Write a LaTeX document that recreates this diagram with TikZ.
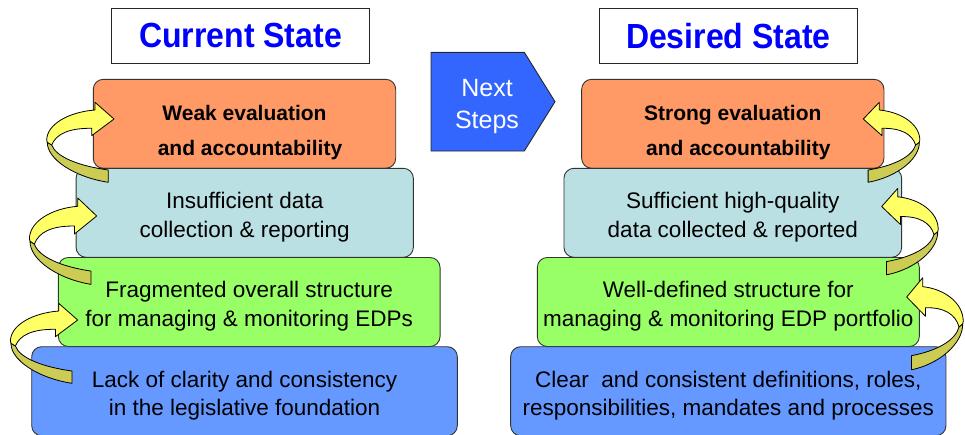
\documentclass[tikz,border=0pt]{standalone}
\usepackage{fontspec}
\setmainfont{Liberation Sans}
\usepackage{graphicx}
\usepackage{tikz}
\usepackage{xcolor}
\definecolor{colorff9966}{HTML}{ff9966}
\definecolor{colorbbe0e3}{HTML}{bbe0e3}
\definecolor{color99ff66}{HTML}{99ff66}
\definecolor{color6699ff}{HTML}{6699ff}
\definecolor{color3366ff}{HTML}{3366ff}
\definecolor{color0000ff}{HTML}{0000ff}
\definecolor{colorffff66}{HTML}{ffff66}
\definecolor{colorcccc55}{HTML}{cccc55}
\newcommand{\lowstrut}{\rule{0pt}{25pt}}
\newcommand{\toplowstrut}{\rule{0pt}{33pt}}

\begin{document}
\begin{tikzpicture}
    [x=1pt, y=-1pt,  % pixel grid, y going down
     titlebox/.style={draw=black!85, line width=1.2pt, fill=white, inner sep=0pt, minimum height=55pt,
                      text=color0000ff, font=\bfseries\fontsize{32}{38}\selectfont},
     stairbox/.style={draw=black!80, line width=0.9pt, rounded corners=10pt, inner sep=2pt, minimum height=89pt,
                      align=center, font=\fontsize{22.5}{28.5}\selectfont},
     topbox/.style={stairbox, fill=colorff9966, font=\bfseries\fontsize{21}{34.7}\selectfont},
     stairarrow/.pic={
        \draw[fill=colorcccc55, line width=0.8pt, line join=round] (-66.7,23.3) .. controls (-67,40) and (-40,58) .. (-5.7,63.3) -- (-5.7,51) .. controls (-35,47) and (-58,38) .. (-62.3,26) -- cycle;
        \draw[fill=colorffff66, line width=0.8pt, line join=round] (0,0) -- (-19,-16.7) -- (-19,-9) .. controls (-45,-7) and (-67,5) .. (-67.3,21) -- (-66.7,23.3) -- (-62.3,26) .. controls (-58,15) and (-45,9) .. (-22.3,9.3) -- (-22.3,16.7) -- cycle;
     },
    ]
\useasboundingbox (0,0) rectangle (965,434);

% current state
\node[titlebox, minimum width=257.6pt] (title_current) at (240.5,35.8) {\scalebox{1}[1.09]{Current State}};
\node[topbox, minimum width=302.4pt] (node_weak) at (244.5,123.8) {\toplowstrut Weak evaluation\\\hspace*{11pt}and accountability};
\node[stairbox, fill=colorbbe0e3, minimum width=337.3pt] (node_insufficient) at (244.7,212.8) {\lowstrut Insufficient data\\collection \& reporting};
\node[stairbox, fill=color99ff66, minimum width=381.7pt] (node_fragmented) at (249.2,302) {\lowstrut Fragmented overall structure\\for managing \& monitoring EDPs};
\node[stairbox, fill=color6699ff, minimum width=425.6pt] (node_lack) at (244.5,391.2) {\lowstrut Lack of clarity and consistency\\in the legislative foundation};

% next steps
\draw[draw=black!85, line width=0.9pt, fill=color3366ff] (431,52.3) -- (524.3,52.3) -- (555,101.7) -- (524.3,151) -- (431,151) -- cycle;
\node[align=center, text=white, font=\fontsize{25}{32}\selectfont] (node_next) at (487,106) {Next\\Steps};

% desired state
\node[titlebox, minimum width=258pt] (title_desired) at (728.3,35.8) {\scalebox{1}[1.09]{Desired State}};
\node[topbox, minimum width=302.3pt] (node_strong) at (732.8,123.8) {\toplowstrut Strong evaluation\\\hspace*{11pt}and accountability};
\node[stairbox, fill=colorbbe0e3, minimum width=337.7pt] (node_sufficient) at (732.8,212.8) {\lowstrut Sufficient high-quality\\data collected \& reported};
\node[stairbox, fill=color99ff66, minimum width=382pt] (node_welldefined) at (728.3,302) {\lowstrut Well-defined structure for\\managing \& monitoring EDP portfolio};
\node[stairbox, fill=color6699ff, minimum width=435.3pt] (node_clear) at (728.3,391.2) {\lowstrut Clear\ \ and consistent definitions, roles,\\responsibilities, mandates and processes};

% step arrows
\pic at (114,119) {stairarrow};
\pic[yscale=1.08] at (96.7,216) {stairarrow};
\pic at (77.7,320) {stairarrow};
\pic[xscale=-0.84] at (863.3,119) {stairarrow};
\pic[xscale=-0.84, yscale=1.08] at (881.7,206.5) {stairarrow};
\pic[xscale=-0.84, yscale=1.15] at (906.7,297) {stairarrow};

\end{tikzpicture}
\end{document}
